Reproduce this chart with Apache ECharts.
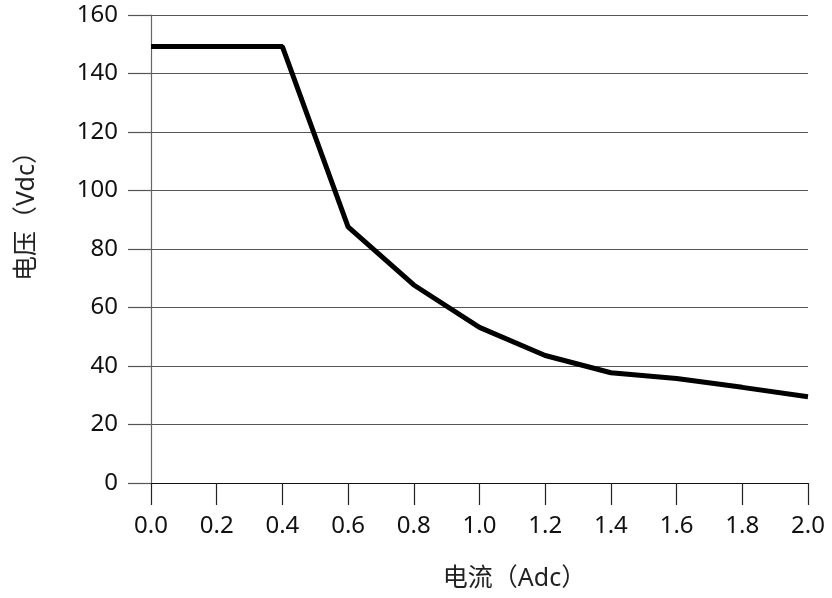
<!DOCTYPE html>
<html>
<head>
<meta charset="utf-8">
<script src="https://cdn.jsdelivr.net/npm/echarts@6/dist/echarts.min.js"></script>
<style>html,body{margin:0;padding:0;background:#fff;}#c{width:832px;height:598px;}</style>
</head>
<body>
<div id="c"></div>
<script>
const currentA = [0.0, 0.4, 0.6, 0.8, 1.0, 1.2, 1.4, 1.6, 1.8, 2.0];
const voltageV = [149.2, 149.2, 87.6, 67.7, 53.2, 43.6, 37.7, 35.7, 32.7, 29.5];
const xName = '电流（Adc）';
const yName = '电压（Vdc）';

const chart = echarts.init(document.getElementById('c'));
const font = '"Noto Sans", "Noto Sans CJK SC", sans-serif';
chart.setOption({
  animation: false,
  backgroundColor: '#fff',
  grid: { left: 151, right: 24, top: 15, bottom: 115 },
  xAxis: {
    type: 'value', min: 0, max: 2, interval: 0.2,
    name: xName, nameLocation: 'middle', nameGap: 83,
    nameTextStyle: { fontFamily: font, fontSize: 25, color: '#222', padding: [0, 0, 0, 70] },
    axisLine: { show: true, lineStyle: { color: '#111', width: 1.2 } },
    axisTick: { show: true, length: 22, lineStyle: { color: '#222', width: 1.2 } },
    axisLabel: { margin: 31, fontFamily: font, fontSize: 24, color: '#111',
      formatter: v => v.toFixed(1) },
    splitLine: { show: false }
  },
  yAxis: {
    type: 'value', min: 0, max: 160, interval: 20,
    name: yName, nameLocation: 'middle', nameRotate: 90, nameGap: 112,
    nameTextStyle: { fontFamily: font, fontSize: 25, color: '#222', padding: [0, 0, 0, 78] },
    axisLine: { show: true, lineStyle: { color: '#666', width: 1.2 } },
    axisTick: { show: true, length: 23, lineStyle: { color: '#555', width: 1.2 } },
    axisLabel: { margin: 33, fontFamily: font, fontSize: 24, color: '#111' },
    splitLine: { show: true, lineStyle: { color: '#555', width: 1.2 } }
  },
  series: [{
    type: 'line',
    data: currentA.map((x, i) => [x, voltageV[i]]),
    symbol: 'none',
    lineStyle: { color: '#000', width: 5 },
    z: 5
  }]
});
</script>
</body>
</html>
